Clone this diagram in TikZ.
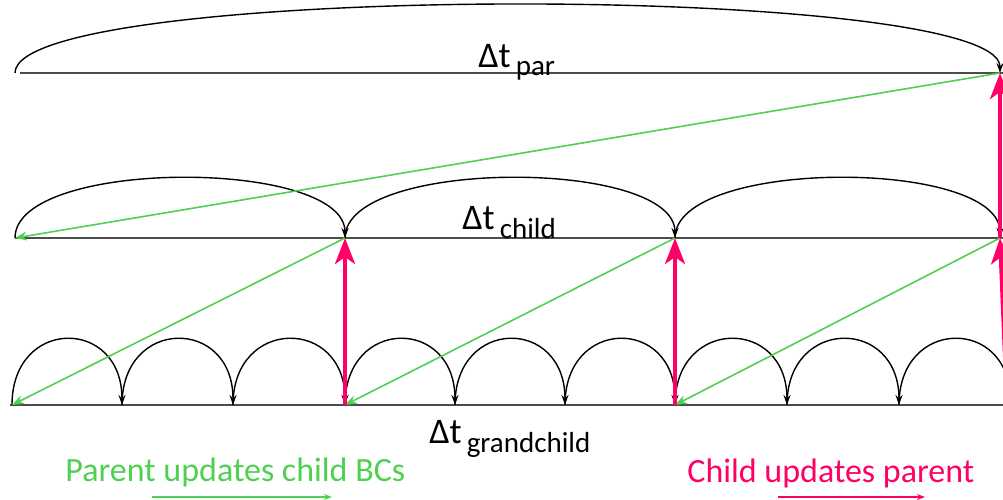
\documentclass[tikz,border=0pt]{standalone}
\usepackage{fontspec}
\setmainfont{Carlito}
\usetikzlibrary{arrows.meta}
\definecolor{bcgreen}{RGB}{80,208,80}
\definecolor{uppink}{RGB}{255,0,102}

\begin{document}
\begin{tikzpicture}[x=0.5pt, y=-0.5pt,
        level/.style={draw=black!70, line width=1pt},
        hop/.style={draw=black, line width=0.7pt, -{Stealth[length=5pt,width=3.5pt]}},
        bcdown/.style={draw=bcgreen, line width=0.8pt, -{Stealth[length=6pt,width=4.5pt]}},
        parentup/.style={draw=uppink, line width=2pt, -{Stealth[length=13pt,width=10pt,inset=3.5pt]}},
        dtlabel/.style={inner sep=0pt, anchor=base west, font=\fontsize{18}{20}\selectfont},
        legend/.style={inner sep=0pt, anchor=base west, font=\fontsize{17}{20}\selectfont},
    ]
    \clip (0,0) rectangle (1003,499);

    % time levels
    \coordinate (p0) at (15,73);   \coordinate (p1) at (1000,73);
    \coordinate (c0) at (15,238);  \coordinate (c1) at (345,238);
    \coordinate (c2) at (675,238); \coordinate (c3) at (1000,238);
    \foreach \i/\x in {0/12, 1/122, 2/233, 3/345, 4/455, 5/565, 6/675, 7/787, 8/899, 9/1010}
        \coordinate (g\i) at (\x,405);

    \draw[level] (20,73) -- (1003,73);
    \draw[level] (c0) -- (1003,238);
    \draw[level] (10,405) -- (1003,405);

    % time steps
    \draw[hop] (p0) .. controls +(0,-91) and +(0,-91) .. (p1);
    \foreach \a/\b in {c0/c1, c1/c2, c2/c3}
        \draw[hop] (\a) .. controls +(0,-80) and +(0,-80) .. (\b);
    \foreach \a/\b in {g0/g1, g1/g2, g2/g3, g3/g4, g4/g5, g5/g6, g6/g7, g7/g8, g8/g9}
        \draw[hop] (\a) .. controls +(0,-88) and +(0,-88) .. (\b);

    \node[dtlabel] (dtpar)   at (478,67)  {Δt\hspace{2.5pt}\raisebox{-4pt}{\fontsize{14.5}{16}\selectfont par}};
    \node[dtlabel] (dtchild) at (462,229) {Δt\hspace{2.5pt}\raisebox{-4.5pt}{\fontsize{14.5}{16}\selectfont child}};
    \node[dtlabel] (dtgrand) at (429,443) {Δt\hspace{2.5pt}\raisebox{-4.5pt}{\fontsize{14.5}{16}\selectfont grandchild}};

    % parent -> child boundary conditions
    \draw[bcdown] (p1) -- (c0);
    \draw[bcdown] (c1) -- (g0);
    \draw[bcdown] (c2) -- (g3);
    \draw[bcdown] (c3) -- (g6);

    % child -> parent updates
    \draw[parentup] (g3) -- (c1);
    \draw[parentup] (g6) -- (c2);
    \coordinate (g10) at (1007,405);
    \draw[parentup] (g10) -- (c3);
    \draw[parentup] (c3) -- (p1);

    % legend
    \node[legend, text=bcgreen] (bclabel) at (65,481) {Parent updates child BCs};
    \coordinate (bcs) at (152,497);  \coordinate (bce) at (332,497);
    \draw[draw=bcgreen, line width=0.7pt, -{Stealth[length=4pt,width=3pt]}] (bcs) -- (bce);
    \node[legend, text=uppink] (uplabel) at (687,482) {Child updates parent};
    \coordinate (ups) at (778,497);  \coordinate (upe) at (925,497);
    \draw[draw=uppink, line width=0.7pt, -{Stealth[length=4pt,width=3pt]}] (ups) -- (upe);
\end{tikzpicture}
\end{document}
